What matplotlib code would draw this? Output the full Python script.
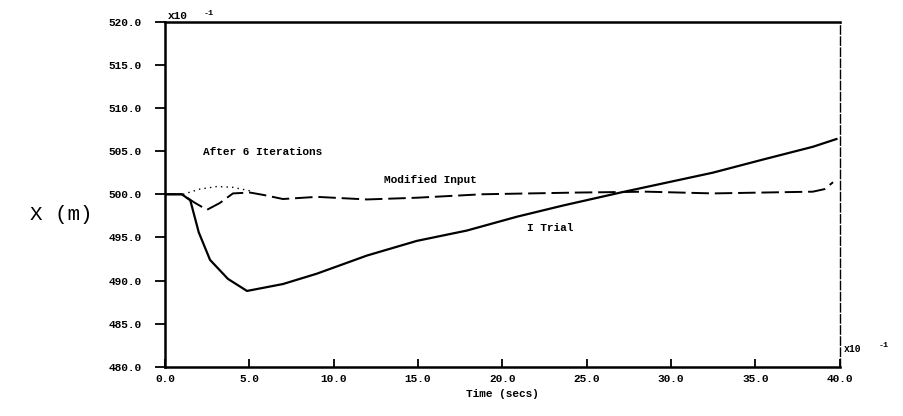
import matplotlib
matplotlib.use("Agg")
import matplotlib.pyplot as plt

# data (x10^-1 units as printed on the axes)
t_first = [0.0, 1.0, 1.5, 2.0, 2.67, 3.73, 4.86, 6.99, 9.0, 11.97, 14.93,
           17.9, 20.86, 23.6, 27.0, 32.47, 35.4, 38.4, 39.8]
x_first = [500.0, 500.0, 499.3, 495.6, 492.4, 490.2, 488.8, 489.6, 490.8, 492.9, 494.6,
           495.8, 497.4, 498.7, 500.2, 502.5, 504.0, 505.5, 506.4]

t_mod = [0.0, 1.0, 1.78, 2.49, 3.26, 4.03, 5.04, 5.9, 6.99, 9.0, 11.97,
         14.93, 18.8, 24.5, 28.56, 32.47, 38.4, 39.1, 39.6]
x_mod = [500.0, 500.0, 499.0, 498.2, 499.0, 500.1, 500.2, 499.9, 499.45, 499.7, 499.4,
         499.6, 500.0, 500.2, 500.3, 500.1, 500.3, 500.6, 501.4]

t_ref = [1.07, 2.07, 3.08, 4.03, 5.04]
x_ref = [500.0, 500.6, 500.9, 500.8, 500.4]

xticks = [0, 5, 10, 15, 20, 25, 30, 35, 40]
yticks = [480, 485, 490, 495, 500, 505, 510, 515, 520]

mono = "Liberation Mono"

fig = plt.figure(figsize=(9.04, 4.16), dpi=100)
ax = fig.add_axes([0.1825, 0.118, 0.7465, 0.83])

ax.plot(t_first, x_first, color="black", linewidth=1.6)
ax.plot(t_mod, x_mod, color="black", linewidth=1.4, dashes=(9, 3))
ax.plot(t_ref, x_ref, color="black", linewidth=1.0, linestyle=(0, (1, 3)))

ax.set_xlim(0, 40)
ax.set_ylim(480, 520)
ax.set_xticks(xticks)
ax.set_yticks(yticks)
ax.set_xticklabels([f"{v:.1f}" for v in xticks], fontfamily=mono,
                   fontweight="bold", fontsize=8)
ax.set_yticklabels([f"{v:.1f}" for v in yticks], fontfamily=mono,
                   fontweight="bold", fontsize=8)
ax.tick_params(axis="y", direction="out", length=7, width=1.3, pad=10)
ax.tick_params(axis="x", direction="in", length=6, width=1.3, pad=5)

for side in ["left", "bottom", "top"]:
    ax.spines[side].set_linewidth(1.8)
ax.spines["right"].set_linewidth(1.0)
ax.spines["right"].set_linestyle((0, (6, 2)))

ax.set_xlabel("Time (secs)", fontfamily=mono, fontweight="bold", fontsize=8,
              labelpad=4)
fig.text(0.033, 0.485, "X (m)", fontfamily=mono, fontsize=15, va="center")

# scale factors
fig.text(0.185, 0.955, "x10", fontfamily=mono, fontweight="bold", fontsize=8)
fig.text(0.225, 0.965, "-1", fontfamily=mono, fontweight="bold", fontsize=6)
fig.text(0.933, 0.155, "x10", fontfamily=mono, fontweight="bold", fontsize=7)
fig.text(0.972, 0.165, "-1", fontfamily=mono, fontweight="bold", fontsize=6)

ax.text(2.25, 504.9, "After 6 Iterations", fontfamily=mono, fontweight="bold",
        fontsize=8, va="center")
ax.text(13.0, 501.6, "Modified Input", fontfamily=mono, fontweight="bold",
        fontsize=8, va="center")
ax.text(21.45, 496.1, "I Trial", fontfamily=mono, fontweight="bold",
        fontsize=8, va="center")

fig.savefig("out.png", dpi=100, facecolor="white")
